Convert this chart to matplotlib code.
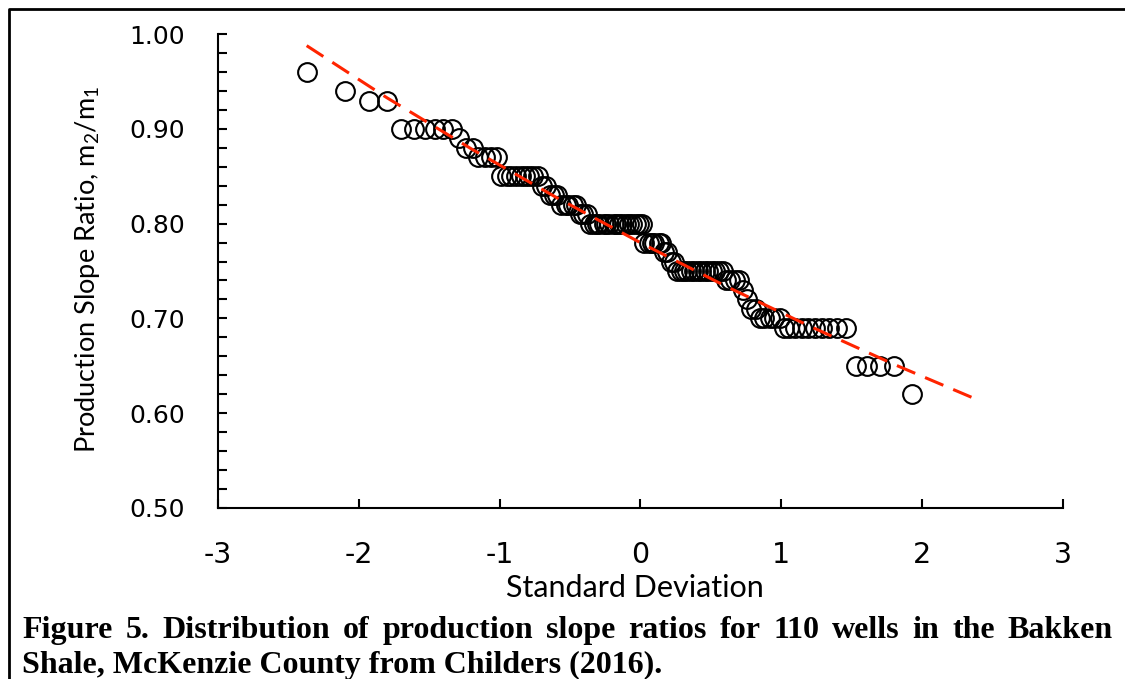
import numpy as np
import matplotlib.pyplot as plt
from matplotlib.lines import Line2D
from matplotlib.ticker import MultipleLocator, FormatStrFormatter

# slope ratio levels, highest first, and the number of wells on each level
ratio_levels = [0.96, 0.94, 0.93, 0.90, 0.89, 0.88, 0.87, 0.85, 0.84, 0.83, 0.82, 0.81, 0.80,
                0.78, 0.77, 0.76, 0.75, 0.74, 0.73, 0.72, 0.71, 0.70, 0.69, 0.65, 0.62]
well_counts = [1, 1, 2, 6, 1, 2, 4, 9, 2, 3, 5, 3, 17,
               6, 2, 2, 14, 4, 1, 1, 2, 5, 10, 4, 1]

# standard deviation position of each well (same order as the ratios)
std_dev = [-2.37, -2.10, -1.93, -1.80, -1.70, -1.61, -1.53, -1.46, -1.40, -1.34,
           -1.29, -1.24, -1.19, -1.15, -1.10, -1.06, -1.02, -0.99, -0.95, -0.92,
           -0.88, -0.85, -0.82, -0.79, -0.76, -0.73, -0.70, -0.67, -0.64, -0.61,
           -0.59, -0.56, -0.53, -0.51, -0.48, -0.46, -0.43, -0.41, -0.38, -0.36,
           -0.33, -0.31, -0.29, -0.26, -0.24, -0.22, -0.19, -0.17, -0.15, -0.13,
           -0.10, -0.08, -0.06, -0.03, -0.01,
           0.01, 0.03, 0.06, 0.08, 0.10, 0.13, 0.15, 0.17, 0.19, 0.22,
           0.24, 0.26, 0.29, 0.31, 0.33, 0.36, 0.38, 0.41, 0.43, 0.46,
           0.48, 0.51, 0.53, 0.56, 0.59, 0.61, 0.64, 0.67, 0.70, 0.73,
           0.76, 0.79, 0.82, 0.85, 0.88, 0.92, 0.95, 0.99, 1.02, 1.06,
           1.10, 1.15, 1.19, 1.24, 1.29, 1.34, 1.40, 1.46, 1.53, 1.61,
           1.70, 1.80, 1.93]

# fitted (lognormal) curve through the distribution
fit_x = [-2.37, -1.8, -1.2, -0.6, 0.0, 0.6, 1.2, 1.8, 2.37]
fit_y = [0.988, 0.933, 0.879, 0.828, 0.780, 0.7345, 0.692, 0.6516, 0.6156]

caption_1 = "Figure 5. Distribution of production slope ratios for 110 wells in the Bakken"
caption_2 = "Shale, McKenzie County from Childers (2016)."

slope_ratio = np.repeat(ratio_levels, well_counts)

plt.rcParams['font.family'] = ['DejaVu Sans']
plt.rcParams['axes.unicode_minus'] = False
plt.rcParams['mathtext.fontset'] = 'custom'
plt.rcParams['mathtext.rm'] = 'Lato'
plt.rcParams['mathtext.it'] = 'Lato'

W, H = 1125, 679
fig = plt.figure(figsize=(W / 100, H / 100), dpi=100)
ax = fig.add_axes([218 / W, 1 - 507.7 / H, (1062.5 - 218) / W, (507.7 - 34.3) / H])

ax.plot(std_dev, slope_ratio, 'o', ms=13.5, mfc='none', mec='black', mew=1.5, zorder=2)
ax.plot(fit_x, fit_y, color='#FF2400', lw=2.2, dashes=(6.5, 3.5), zorder=3)

ax.set_xlim(-3, 3)
ax.set_ylim(0.5, 1.0)
ax.set_xticks(range(-3, 4))
ax.yaxis.set_major_locator(MultipleLocator(0.1))
ax.yaxis.set_minor_locator(MultipleLocator(0.02))
ax.yaxis.set_major_formatter(FormatStrFormatter('%.2f'))

for side in ['top', 'right']:
    ax.spines[side].set_visible(False)
for side in ['left', 'bottom']:
    ax.spines[side].set_linewidth(1.5)

ax.tick_params(axis='both', which='both', direction='in', length=6.5, width=1.5)
ax.tick_params(axis='y', labelsize=18, pad=24)
ax.tick_params(axis='x', labelsize=20.5, pad=24)

ax.set_xlabel("Standard Deviation", family='Lato', fontsize=22, va='center')
ax.xaxis.set_label_coords((635 - 218) / 844.5, (507.7 - 588) / 473.4)
ax.set_ylabel("Production Slope Ratio, m$_2$/m$_1$", family='Lato', fontsize=19.5, va='center')
ax.yaxis.set_label_coords((88 - 218) / 844.5, (507.7 - 269) / 473.4)

# frame around the figure (top and left edges only)
fig.add_artist(Line2D([8.5 / W, 8.5 / W, 1.0], [0.0, 1 - 8.5 / H, 1 - 8.5 / H],
                      color='black', lw=2.0, transform=fig.transFigure))

# caption, first line justified between the margins
cap_style = dict(family='Liberation Serif', weight='bold', fontsize=23, va='baseline')
words = caption_1.split()
word_texts = [fig.text(0, 1 - 638 / H, w, **cap_style) for w in words]
fig.canvas.draw()
renderer = fig.canvas.get_renderer()
widths = [t.get_window_extent(renderer).width for t in word_texts]
left, right = 22, 1113
gap = (right - left - sum(widths)) / (len(words) - 1)
x = left
for t, w in zip(word_texts, widths):
    t.set_x(x / W)
    x += w + gap
fig.text(left / W, 1 - 673 / H, caption_2, **cap_style)

fig.savefig("out.png", dpi=100)
